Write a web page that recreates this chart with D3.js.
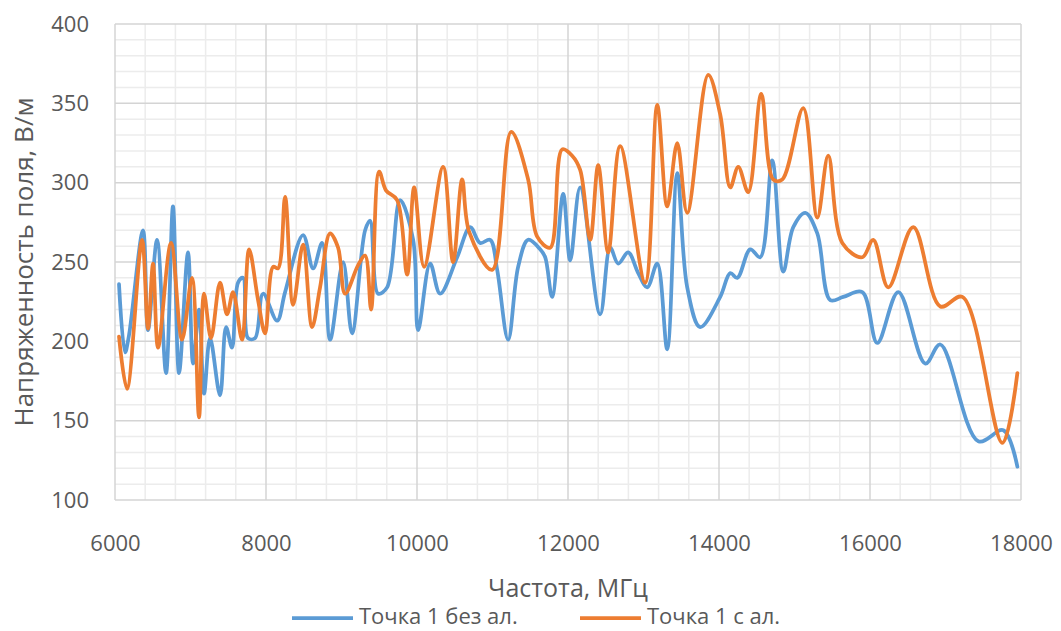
<!DOCTYPE html>
<html>
<head>
<meta charset="utf-8">
<script src="https://cdn.jsdelivr.net/npm/d3@7"></script>
<style>
  body { margin: 0; background: #fff; }
  svg text { font-family: "Open Sans", sans-serif; fill: #595959; }
</style>
</head>
<body>
<svg id="chart" width="1061" height="631"></svg>
<script>
// Точка 1 без ал. (blue)
var bezX = [6053, 6133, 6186, 6371, 6437, 6557, 6676, 6768, 6848, 6967, 7034, 7113, 7179, 7259, 7391, 7471, 7550, 7630, 7696, 7762, 7855, 7961,
    8147, 8253, 8491, 8624, 8743, 8849, 9021, 9140, 9313, 9379, 9485, 9604, 9776, 9949, 10015, 10174, 10306, 10532, 10704, 10836, 10969,
    11062, 11207, 11340, 11472, 11631, 11698, 11790, 11936, 12029, 12161, 12426, 12559, 12665, 12797, 12930, 13049, 13182, 13314, 13447,
    13579, 13751, 14016, 14149, 14242, 14414, 14546, 14705, 14851, 14984, 15143, 15302, 15474, 15646, 15898, 16096, 16375, 16733, 16931,
    17435, 17766, 17952];
var bezY = [236, 193, 204, 270, 207, 264, 180, 285, 180, 256, 186, 220, 167, 202, 166, 209, 196, 237, 240, 202, 202, 230,
    213, 231, 267, 246, 262, 201, 250, 205, 270, 276, 230, 234, 289, 264, 207, 249, 230, 253, 272, 262, 264,
    245, 201, 247, 264, 258, 253, 228, 293, 251, 297, 217, 259, 249, 256, 243, 234, 249, 195, 306,
    234, 209, 228, 243, 240, 258, 253, 314, 244, 272, 281, 268, 226, 228, 231, 199, 231, 186, 198,
    137, 144, 121];

// Точка 1 с ал. (orange)
var sAlX = [6053, 6159, 6358, 6437, 6504, 6570, 6742, 6888, 7020, 7113, 7179, 7272, 7391, 7484, 7564, 7683, 7776, 7895, 7988,
    8094, 8160, 8253, 8359, 8491, 8610, 8716, 8849, 8955, 9048, 9220, 9313, 9392, 9498, 9591, 9737, 9869, 9962, 10094, 10346,
    10478, 10598, 10691, 10995, 11247, 11472, 11592, 11764, 11923, 12055, 12161, 12294, 12400, 12532, 12691, 13022, 13182, 13314,
    13447, 13579, 13857, 14016, 14149, 14255, 14387, 14560, 14718, 14838, 15116, 15302, 15447, 15633, 15898, 16043, 16242, 16573,
    16931, 17223, 17753, 17952];
var sAlY = [203, 170, 264, 208, 249, 196, 262, 201, 240, 152, 230, 202, 237, 217, 231, 201, 258, 226, 205,
    247, 246, 291, 223, 261, 209, 234, 268, 259, 230, 248, 254, 220, 307, 295, 289, 242, 297, 247, 310,
    250, 302, 269, 245, 332, 302, 266, 259, 321, 317, 308, 264, 311, 256, 323, 237, 349, 285,
    325, 281, 368, 343, 297, 310, 294, 356, 302, 302, 347, 278, 317, 262, 253, 264, 234, 272,
    222, 228, 136, 180];

var seriesNames = ["Точка 1 без ал.", "Точка 1 с ал."];
var seriesColors = ["#5b9bd5", "#ed7d31"];
var xTicks = [6000, 8000, 10000, 12000, 14000, 16000, 18000];
var yTicks = [100, 150, 200, 250, 300, 350, 400];

(function () {
    var svg = d3.select("#chart");
    var m = { left: 115, right: 1021, top: 24, bottom: 500 };

    var x = d3.scaleLinear().domain([6000, 18000]).range([m.left, m.right]);
    var y = d3.scaleLinear().domain([100, 400]).range([m.bottom, m.top]);

    // minor grid
    var minorX = d3.range(6000, 18001, 400).filter(function (v) { return v % 2000 !== 0; });
    var minorY = d3.range(100, 401, 10).filter(function (v) { return v % 50 !== 0; });

    var grid = svg.append("g");
    grid.selectAll("line.mx").data(minorX).enter().append("line")
        .attr("x1", x).attr("x2", x).attr("y1", m.top).attr("y2", m.bottom)
        .attr("stroke", "#ececec").attr("stroke-width", 1.5);
    grid.selectAll("line.my").data(minorY).enter().append("line")
        .attr("y1", y).attr("y2", y).attr("x1", m.left).attr("x2", m.right)
        .attr("stroke", "#ececec").attr("stroke-width", 1.5);
    grid.selectAll("line.Mx").data(xTicks).enter().append("line")
        .attr("x1", x).attr("x2", x).attr("y1", m.top).attr("y2", m.bottom)
        .attr("stroke", "#d4d4d4").attr("stroke-width", 1.5);
    grid.selectAll("line.My").data(yTicks).enter().append("line")
        .attr("y1", y).attr("y2", y).attr("x1", m.left).attr("x2", m.right)
        .attr("stroke", "#d4d4d4").attr("stroke-width", 1.5);

    // axes
    var yAxis = svg.append("g")
        .attr("transform", "translate(" + m.left + ",0)")
        .call(d3.axisLeft(y).tickValues(yTicks).tickSize(0).tickPadding(26));
    var xAxis = svg.append("g")
        .attr("transform", "translate(0," + m.bottom + ")")
        .call(d3.axisBottom(x).tickValues(xTicks).tickSize(0).tickPadding(35).tickFormat(d3.format("d")));
    [yAxis, xAxis].forEach(function (a) {
        a.select(".domain").remove();
        a.selectAll("text").style("font-size", "22px").attr("fill", "#595959");
    });

    // lines
    var line = d3.line()
        .x(function (d) { return x(d[0]); })
        .y(function (d) { return y(d[1]); })
        .curve(d3.curveCatmullRom.alpha(0.5));

    var series = [d3.zip(bezX, bezY), d3.zip(sAlX, sAlY)];
    svg.append("g").selectAll("path").data(series).enter().append("path")
        .attr("d", line)
        .attr("fill", "none")
        .attr("stroke", function (d, i) { return seriesColors[i]; })
        .attr("stroke-width", 3.75)
        .attr("stroke-linejoin", "round")
        .attr("stroke-linecap", "round");

    // titles
    svg.append("text")
        .attr("x", 568).attr("y", 597)
        .attr("text-anchor", "middle")
        .style("font-size", "25px")
        .text("Частота, МГц");
    svg.append("text")
        .attr("transform", "translate(33," + ((m.top + m.bottom) / 2) + ") rotate(-90)")
        .attr("text-anchor", "middle")
        .style("font-size", "26px")
        .text("Напряженность поля, В/м");

    // legend
    var legend = svg.append("g").selectAll("g").data(seriesNames).enter().append("g")
        .attr("transform", function (d, i) { return "translate(" + (292 + i * 288) + ",618)"; });
    legend.append("line")
        .attr("x1", 0).attr("x2", 61).attr("y1", 0).attr("y2", 0)
        .attr("stroke", function (d, i) { return seriesColors[i]; })
        .attr("stroke-width", 3.75);
    legend.append("text")
        .attr("x", 67).attr("y", 6)
        .style("font-size", "22px")
        .text(function (d) { return d; });
})();
</script>
</body>
</html>
